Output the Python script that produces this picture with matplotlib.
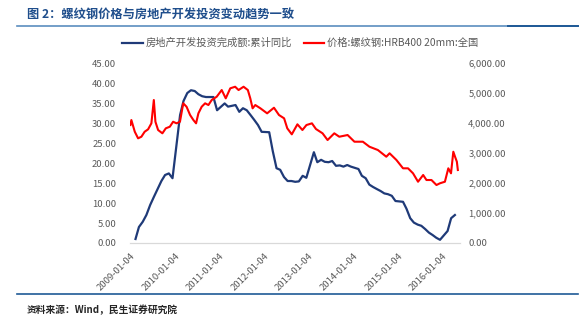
import numpy as np
import pandas as pd
import matplotlib
matplotlib.use("Agg")
import matplotlib.pyplot as plt
from matplotlib.lines import Line2D
from matplotlib.ticker import FuncFormatter

plt.rcParams['font.family'] = ['Noto Sans CJK SC', 'DejaVu Sans']

# 房地产开发投资完成额:累计同比 (%), monthly Feb-Dec, 2009-2015, then 2016 Feb-Apr
invest_yoy = [
    1.0, 4.0, 5.3, 7.0, 9.5, 11.5, 13.5, 15.5, 17.0, 17.4, 16.2,
    32.0, 35.5, 37.5, 38.2, 38.0, 37.2, 36.7, 36.5, 36.5, 36.5, 33.2,
    34.9, 34.1, 34.3, 34.5, 32.8, 33.7, 33.2, 32.0, 30.8, 29.5, 27.8,
    27.7, 23.0, 18.7, 18.3, 16.5, 15.5, 15.5, 15.3, 15.4, 16.8, 16.3,
    22.7, 20.2, 20.8, 20.3, 20.2, 20.5, 19.3, 19.4, 19.1, 19.5, 19.1,
    18.5, 16.8, 16.2, 14.6, 14.0, 13.5, 13.0, 12.4, 12.2, 11.8, 10.5,
    10.3, 8.6, 6.2, 5.1, 4.6, 4.3, 3.5, 2.6, 2.0, 1.3, 0.8,
    3.0, 6.2, 7.0,
]
invest_months = [f"{y}-{m:02d}-15" for y in range(2009, 2016) for m in range(2, 13)]
invest_months += ["2016-02-15", "2016-03-15", "2016-04-15"]

# 价格:螺纹钢:HRB400 20mm:全国 (元/吨)
rebar_dates = [
    "2009-01-04", "2009-01-12", "2009-02-09", "2009-03-08", "2009-04-04", "2009-05-01",
    "2009-05-29", "2009-06-25", "2009-07-15", "2009-07-28", "2009-08-19", "2009-09-23",
    "2009-10-21", "2009-11-23", "2009-12-20", "2010-01-17", "2010-02-14", "2010-03-13",
    "2010-04-09", "2010-05-08", "2010-06-04", "2010-06-26", "2010-07-15", "2010-08-11",
    "2010-09-08", "2010-10-05", "2010-11-01", "2010-12-12", "2011-01-22", "2011-02-24",
    "2011-04-02", "2011-05-12", "2011-06-09", "2011-07-20", "2011-08-24", "2011-09-13",
    "2011-10-02", "2011-10-24", "2011-12-05", "2012-01-29", "2012-03-25", "2012-05-05",
    "2012-06-16", "2012-07-12", "2012-08-18", "2012-10-03", "2012-11-13", "2012-12-16",
    "2013-01-30", "2013-03-04", "2013-04-27", "2013-06-07", "2013-08-01", "2013-09-11",
    "2013-11-18", "2014-01-13", "2014-03-23", "2014-05-16", "2014-07-24", "2014-10-01",
    "2014-10-28", "2014-12-23", "2015-02-15", "2015-03-28", "2015-05-08", "2015-06-18",
    "2015-07-30", "2015-08-26", "2015-10-06", "2015-11-16", "2015-12-14", "2016-01-24",
    "2016-02-21", "2016-03-14", "2016-04-02", "2016-04-16", "2016-05-01", "2016-05-09",
]
rebar_price = [
    3933, 4100, 3710, 3490, 3543, 3710,
    3790, 3990, 4767, 4043, 3767, 3657,
    3823, 3877, 4043, 3990, 4043, 4657,
    4543, 4267, 4100, 3990, 4323, 4543,
    4657, 4600, 4767, 4877, 5100, 4823,
    5157, 5210, 5100, 5210, 5100, 4823,
    4490, 4600, 4490, 4323, 4510, 4267,
    4157, 3823, 3623, 3957, 3767, 3933,
    3990, 3800, 3657, 3433, 3657, 3543,
    3600, 3377, 3377, 3210, 3100, 2877,
    2990, 2767, 2490, 2490, 2323, 2043,
    2267, 2100, 2100, 1933, 1990, 2043,
    2490, 2323, 3043, 2877, 2710, 2433,
]

tick_dates = [f"{y}-01-04" for y in range(2009, 2017)]
left_ticks = np.arange(0, 46, 5)
right_ticks = np.arange(0, 6001, 1000)

navy = "#1f3a78"
red = "#ff0000"
gray = "#595959"

fig = plt.figure(figsize=(5.87, 3.29), dpi=100)
ax = fig.add_axes([0.2215, 0.2614, 0.562, 0.547])
ax2 = ax.twinx()

ax.plot(pd.to_datetime(invest_months), invest_yoy, color=navy, lw=1.6)
ax2.plot(pd.to_datetime(rebar_dates), rebar_price, color=red, lw=1.5)

ax.set_ylim(0, 45)
ax2.set_ylim(0, 6000)
ax.set_yticks(left_ticks)
ax2.set_yticks(right_ticks)
ax.yaxis.set_major_formatter(FuncFormatter(lambda v, p: f"{v:.2f}"))
ax2.yaxis.set_major_formatter(FuncFormatter(lambda v, p: f"{v:,.2f}"))

ax.set_xlim(pd.Timestamp("2009-01-01"), pd.Timestamp("2016-05-26"))
ax.set_xticks(pd.to_datetime(tick_dates))
ax.set_xticklabels(tick_dates, rotation=45, ha="right", rotation_mode="anchor")

for a in (ax, ax2):
    for s in ("top", "left", "right"):
        a.spines[s].set_visible(False)
    a.spines["bottom"].set_color("#d9d9d9")
    a.tick_params(length=0, labelsize=6.8, labelcolor=gray)
ax.tick_params(axis="y", pad=10)
ax2.tick_params(axis="y", pad=6)
ax.tick_params(axis="x", pad=6)

handles = [Line2D([], [], color=navy, lw=1.6), Line2D([], [], color=red, lw=1.6)]
fig.legend(handles, ["房地产开发投资完成额:累计同比", "价格:螺纹钢:HRB400 20mm:全国"],
           loc="center", bbox_to_anchor=(0.512, 1 - 43 / 329), ncol=2, frameon=False,
           fontsize=7.4, labelcolor=gray, handlelength=2.0, handletextpad=0.3,
           columnspacing=1.1)

# title and rules
fig.text(27 / 587, 1 - 15 / 329, "图 2：螺纹钢价格与房地产开发投资变动趋势一致",
         fontsize=8.8, fontweight="bold", color="#1f4e8c", va="center")
fig.add_artist(Line2D([17 / 587, 578 / 587], [1 - 25.5 / 329] * 2, color="#5b8dbf", lw=1.2))
fig.add_artist(Line2D([508 / 587, 578 / 587], [1 - 25.5 / 329] * 2, color="#1f5a96", lw=1.4))
fig.add_artist(Line2D([17 / 587, 578 / 587], [1 - 294 / 329] * 2, color="#1f5a96", lw=1.2))
fig.text(27 / 587, 1 - 310 / 329, "资料来源：Wind，民生证券研究院",
         fontsize=7, fontweight="bold", color="#262626", va="center")

fig.savefig("out.png", dpi=100)
